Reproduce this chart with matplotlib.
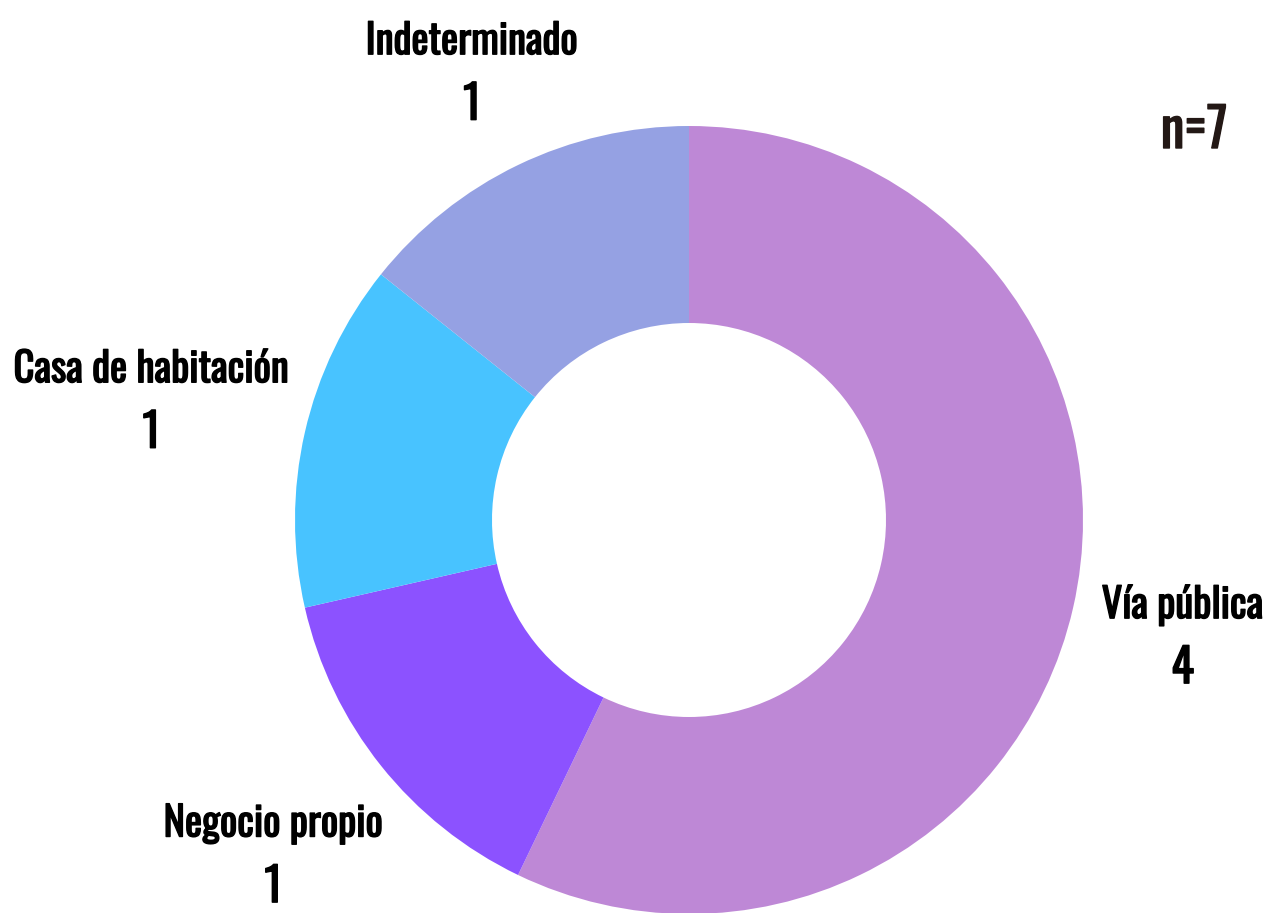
import numpy as np
import matplotlib
matplotlib.use("Agg")
import matplotlib.pyplot as plt
import matplotlib.patheffects as pe
from matplotlib import font_manager

categories = ["Vía pública", "Negocio propio", "Casa de habitación", "Indeterminado"]
values = [4, 1, 1, 1]
colors = ["#BE88D6", "#8C52FF", "#48C3FF", "#95A1E3"]
label_dist = [1.285, 1.35, 1.40, 1.27]
total_label = "n=7"

fonts = font_manager.fontManager.ttflist
names = {f.name for f in fonts}
stretch = 'normal'
fam = None
for cand in ["Oswald", "League Gothic", "Bebas Neue", "Roboto Condensed", "Open Sans Condensed",
             "Liberation Sans Narrow", "Noto Sans Condensed", "DejaVu Sans Condensed"]:
    if cand in names:
        fam = cand
        break
if fam is None:
    fam = "DejaVu Sans"
    if any(f.name == "DejaVu Sans" and str(f.stretch) in ("condensed", "semi-condensed", "75", "87") for f in fonts):
        stretch = 'condensed'
plt.rcParams['font.family'] = [fam, "DejaVu Sans"]

W, H = 1268, 913
fig = plt.figure(figsize=(W / 100, H / 100), dpi=100)
cx, cy, R = 689, H - 520, 394
ax = fig.add_axes([(cx - R) / W, (cy - R) / H, 2 * R / W, 2 * R / H])
wedges, _ = ax.pie(values, colors=colors, startangle=90, counterclock=False,
                   radius=1.0, wedgeprops=dict(width=0.5, linewidth=0))
ax.set_xlim(-1, 1)
ax.set_ylim(-1, 1)
ax.set_aspect('equal')
ax.axis('off')

bold = [pe.withStroke(linewidth=1.0, foreground='black')]
bold_n = [pe.withStroke(linewidth=1.0, foreground='#231815')]

# size font so that the widest label is ~277 px wide, as in the reference
renderer = fig.canvas.get_renderer()
probe = fig.text(0, 0, "Casa de habitación", fontsize=20, fontweight='bold', fontstretch=stretch)
w20 = probe.get_window_extent(renderer).width
probe.remove()
fs = 20 * 276 / w20
probe = fig.text(0, 0, total_label, fontsize=20, fontweight='bold', fontstretch=stretch)
wn = probe.get_window_extent(renderer).width
probe.remove()
fsn = 20 * 67 / wn

for w, name, v, d in zip(wedges, categories, values, label_dist):
    ang = np.deg2rad((w.theta1 + w.theta2) / 2)
    x, y = d * np.cos(ang), d * np.sin(ang)
    ax.annotate(name, (x, y), xytext=(0, 28), textcoords='offset pixels',
                ha='center', va='center', fontsize=fs, fontweight='bold', fontstretch=stretch,
                color='black', annotation_clip=False, path_effects=bold)
    ax.annotate(str(v), (x, y), xytext=(0, -36), textcoords='offset pixels',
                ha='center', va='center', fontsize=fs * 1.15, fontweight='bold', fontstretch=stretch,
                color='black', annotation_clip=False, path_effects=bold)

fig.text(1194 / W, 1 - 131 / H, total_label, ha='center', va='center',
         fontsize=fsn, fontweight='bold', fontstretch=stretch, color='#231815',
         path_effects=bold_n)

fig.savefig("out.png", dpi=100, facecolor='white')
